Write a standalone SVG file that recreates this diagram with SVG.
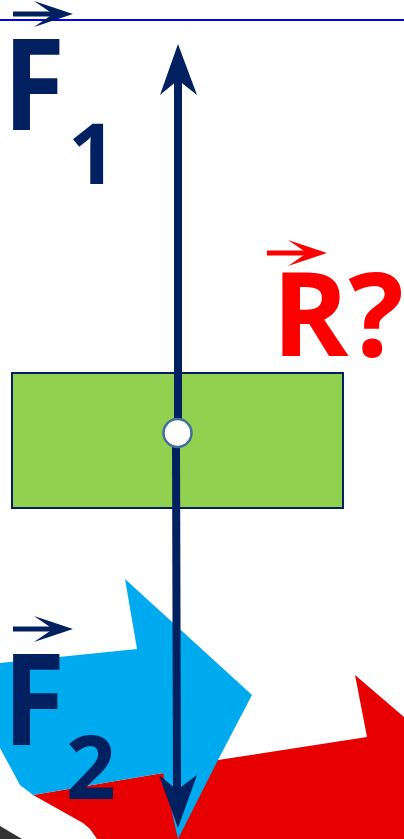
<svg xmlns="http://www.w3.org/2000/svg" xmlns:xlink="http://www.w3.org/1999/xlink" width="404" height="839" viewBox="0 0 404 839">
  <style>
    .navy { fill: #002060; }
    .lbl { font-family: "Open Sans", "Liberation Sans", sans-serif; font-weight: 700; }
    .force { stroke: #002060; stroke-width: 8; fill: none; }
  </style>
  <defs>
    <g id="vec">
      <rect x="0" y="-2.5" width="44" height="5"/>
      <polygon points="60,0 21,-13 40,0 21,13"/>
    </g>
  </defs>
  <rect width="404" height="839" fill="#ffffff"/>
  <g id="background">
    <polygon points="33,795 163,773 218,760 367,737 355,675 404,717 404,839 97,839 90,829 83,823" fill="#e60000"/>
    <polygon points="0,663 137,649 125,579 252,695 218,760 178,839 163,773 33,795 20,785 0,748" fill="#00aaef"/>
    <polygon points="0,826 22,839 0,839" fill="#333333"/>
  </g>
  <line id="top-rule" x1="0" y1="20" x2="404" y2="20" stroke="#0000ff" stroke-width="2"/>
  <g id="body">
    <rect x="12" y="373" width="331" height="135" fill="#92d050" stroke="#002060" stroke-width="2"/>
  </g>
  <g id="connectors">
    <line class="force" x1="178" y1="80" x2="178" y2="420"/>
    <polygon class="navy" points="178,44 197,95 178,80 160,95"/>
    <line class="force" x1="176" y1="445" x2="177" y2="790"/>
    <polygon class="navy" points="178,828 159,775 177,790 197,775"/>
  </g>
  <g id="point">
    <circle cx="177.5" cy="433" r="14" fill="#ffffff" stroke="#41719c" stroke-width="2.5"/>
  </g>
  <g id="F1">
    <use xlink:href="#vec" transform="translate(13,14)" class="navy"/>
    <text class="lbl navy" x="3" y="130" font-size="127" textLength="62" lengthAdjust="spacingAndGlyphs">F</text>
    <text class="lbl navy" x="68" y="184" font-size="85">1</text>
  </g>
  <g id="F2">
    <use xlink:href="#vec" transform="translate(13,629)" class="navy"/>
    <text class="lbl navy" x="3" y="745" font-size="127" textLength="62" lengthAdjust="spacingAndGlyphs">F</text>
    <text class="lbl navy" x="66" y="799" font-size="87">2</text>
  </g>
  <g id="R">
    <use xlink:href="#vec" transform="translate(267,253)" fill="#ff0000"/>
    <text class="lbl" x="272" y="356" font-size="116" fill="#ff0000">R?</text>
  </g>
</svg>
